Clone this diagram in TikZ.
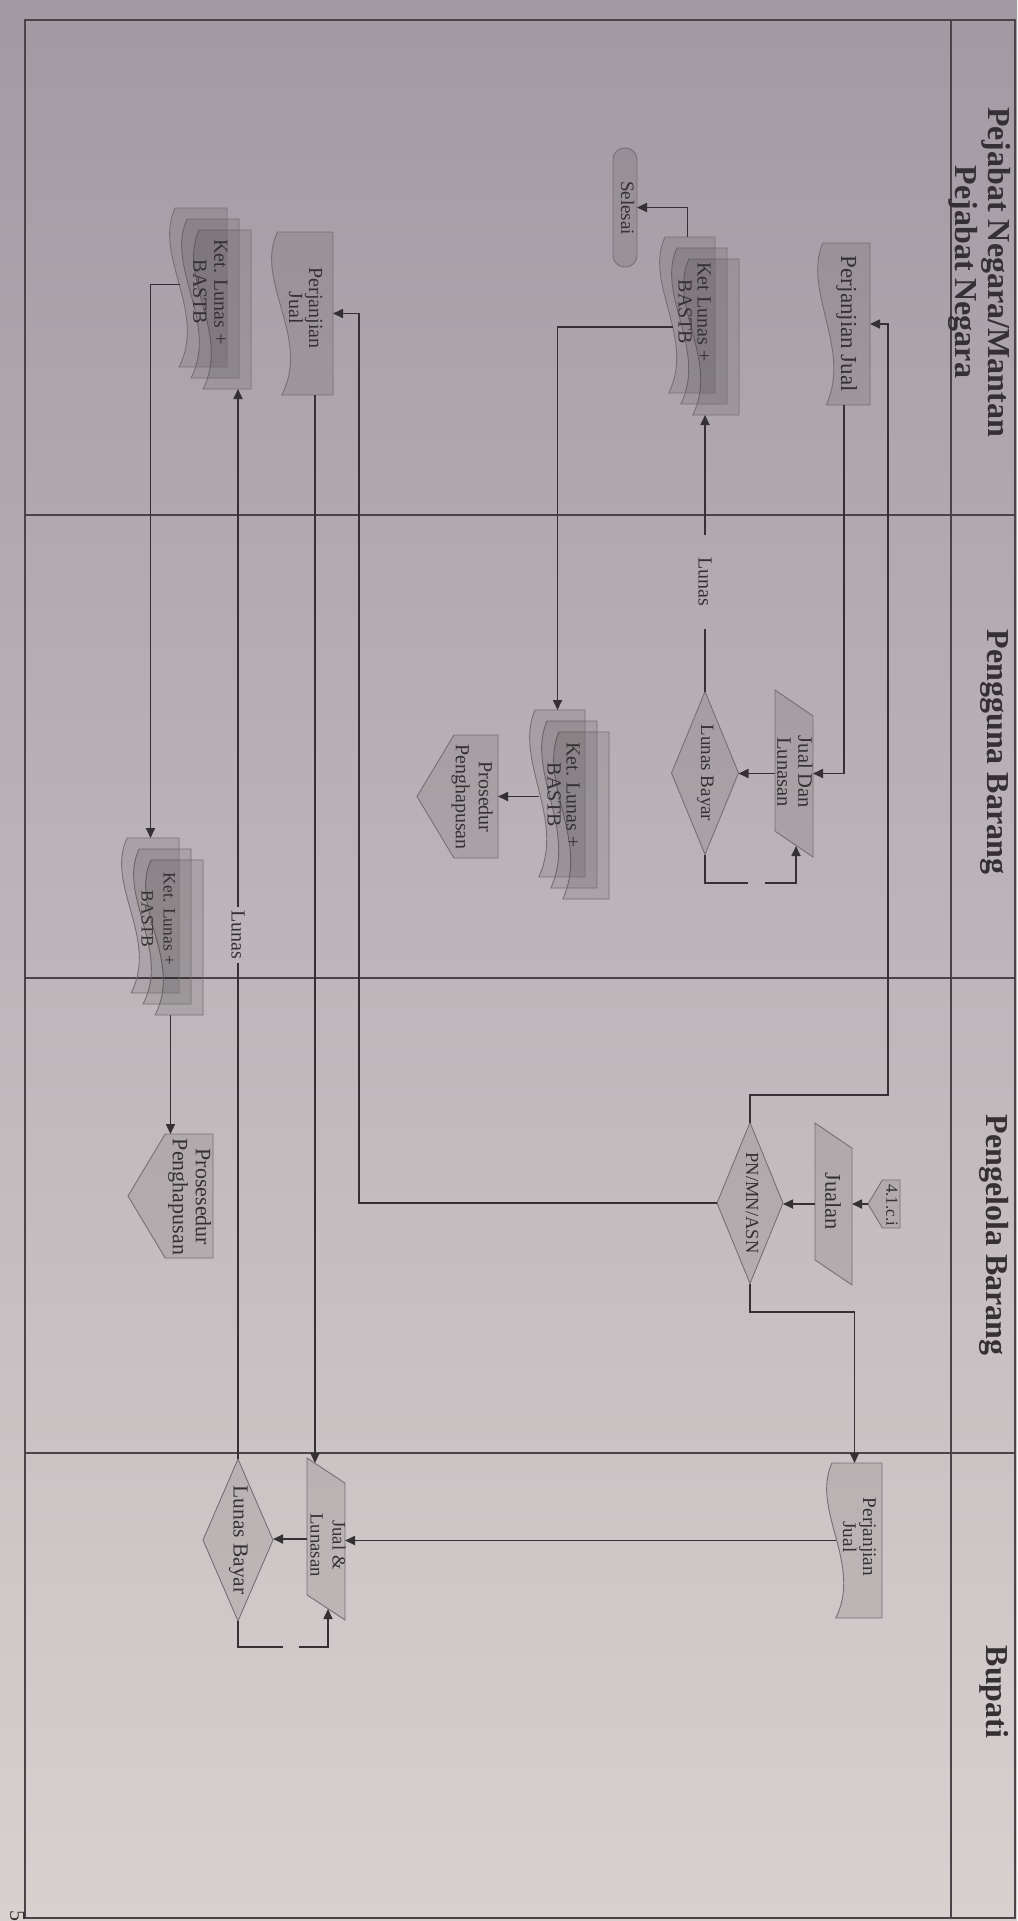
\documentclass[tikz,border=0pt]{standalone}
\usepackage{fontspec}
\setmainfont{Liberation Serif}
\usepackage{graphicx}
\usetikzlibrary{calc,arrows.meta}

\definecolor{bgtop}{RGB}{162,154,163}
\definecolor{bgmid}{RGB}{204,197,200}
\definecolor{bgbot}{RGB}{216,209,208}
\definecolor{ink}{RGB}{52,48,52}
\definecolor{rule}{RGB}{72,68,72}
\definecolor{edge}{RGB}{118,112,118}

\tikzset{
  frame/.style={rectangle, inner sep=0pt, outer sep=0pt},
  shapeline/.style={draw=edge, line width=0.9pt, fill=black, fill opacity=0.09},
  conn/.style={draw=ink, line width=1.7pt},
  arr/.style={conn, -{Triangle[length=10pt,width=9pt]}},
  lane/.style={draw=rule, line width=1.4pt},
  txt/.style={inner sep=0pt, outer sep=0pt, text=ink},
}

% invisible named box spanning (xl,yt)-(xr,yb)
\newcommand\mkbox[5]{%
  \node[frame, minimum width={(#4)-(#2)}, minimum height={(#5)-(#3)}]
    (#1) at ({((#2)+(#4))/2},{((#3)+(#5))/2}) {};}

% text turned a quarter turn clockwise
\newcommand\rtext[6]{%
  \node[txt] (#1) at (#2,#3)
    {\rotatebox{-90}{\fontsize{#4}{#5}\selectfont\begin{tabular}{@{}c@{}}#6\end{tabular}}};}

% document sheet, wavy edge on the left
\newcommand\docshape[1]{%
  \path[shapeline] let \p1=(#1.north west), \p2=(#1.south east),
      \p3=($(#1.south east)-(#1.north west)$) in
    ({\x1+0.09*\x3},\y1) -- (\x2,\y1) -- (\x2,\y2) -- ({\x1+0.16*\x3},\y2)
    .. controls ({\x1+0.65*\x3},{\y1+0.65*\y3}) and ({\x1-0.3*\x3},{\y1+0.3*\y3})
    .. ({\x1+0.09*\x3},\y1) -- cycle;}

% three stacked sheets: #1c (back), #1b, #1 (front)
\newcommand\stackdoc[5]{%
  \mkbox{#1c}{(#2)+24}{(#3)+22}{(#4)+24}{(#5)+22}
  \mkbox{#1b}{(#2)+12}{(#3)+11}{(#4)+12}{(#5)+11}
  \mkbox{#1}{#2}{#3}{#4}{#5}
  \docshape{#1c}\docshape{#1b}\docshape{#1}}

% data (parallelogram), slanted ends at top and bottom
\newcommand\ioshape[1]{%
  \path[shapeline] let \p1=(#1.north west), \p2=(#1.south east),
      \p3=($(#1.south east)-(#1.north west)$) in
    (\x1,\y1) -- (\x2,{\y1+0.155*\y3}) -- (\x2,\y2) -- (\x1,{\y2-0.155*\y3}) -- cycle;}

% decision
\newcommand\diashape[1]{%
  \path[shapeline] (#1.north) -- (#1.east) -- (#1.south) -- (#1.west) -- cycle;}

% off-page reference pointing left
\newcommand\offshape[1]{%
  \path[shapeline] let \p1=(#1.north west), \p2=(#1.south east),
      \p3=($(#1.south east)-(#1.north west)$) in
    (\x2,\y1) -- (\x2,\y2) -- ({\x1-0.3*\y3},\y2) -- (\x1,{0.5*\y1+0.5*\y2})
    -- ({\x1-0.3*\y3},\y1) -- cycle;}

\begin{document}
\begin{tikzpicture}[x=1pt,y=-1pt]
\useasboundingbox (0,0) rectangle (1017,1921);
\shade[top color=bgtop, middle color=bgmid, bottom color=bgbot] (0,0) rectangle (1017,1921);

% swimlanes
\draw[lane] (25,20) rectangle (1015,1918);
\draw[lane] (951,20) -- (951,1918);
\foreach \yy in {515,978,1453} \draw[lane] (25,\yy) -- (1015,\yy);

\node[txt] (hPN) at (979,272) {\rotatebox{-90}{\fontsize{32}{33}\selectfont\bfseries
  \begin{tabular}{@{}c@{}}Pejabat Negara/Mantan\\Pejabat Negara\end{tabular}}};
\node[txt] (hPB) at (994,752) {\rotatebox{-90}{\fontsize{32}{33}\selectfont\bfseries Pengguna Barang}};
\node[txt] (hPL) at (994,1235) {\rotatebox{-90}{\fontsize{32}{33}\selectfont\bfseries Pengelola Barang}};
\node[txt] (hBU) at (994,1692) {\rotatebox{-90}{\fontsize{32}{33}\selectfont\bfseries Bupati}};

% ---- Pejabat Negara lane
\mkbox{PJ1}{818}{243}{870}{405}\docshape{PJ1}
\stackdoc{KL1}{660}{237}{715}{393}
\node[frame, shapeline, rounded corners=11.5pt, minimum width=24, minimum height=119] (Sel) at (625,207.5) {};
\stackdoc{KL2}{170}{208}{227}{367}
\mkbox{PJ2}{272}{232}{333}{395}\docshape{PJ2}

% ---- Pengguna Barang lane
\mkbox{JDL}{775}{690}{813}{857}\ioshape{JDL}
\mkbox{LB1}{671.5}{691.5}{738.5}{854.5}\diashape{LB1}
\stackdoc{KLa}{530}{710}{585}{877}
\mkbox{PP1}{417}{735}{498}{858}\offshape{PP1}
\stackdoc{KL3}{122}{838}{179}{993}

% ---- Pengelola Barang lane
\mkbox{R41}{868}{1180}{900}{1228}\offshape{R41}
\mkbox{Jua}{815}{1123}{852}{1285}\ioshape{Jua}
\mkbox{PN}{717}{1122.5}{783}{1283.5}\diashape{PN}
\mkbox{PP2}{128}{1134}{213}{1258}\offshape{PP2}

% ---- Bupati lane
\mkbox{PJ3}{827}{1463}{882}{1618}\docshape{PJ3}
\mkbox{JL}{307}{1458}{345}{1620}\ioshape{JL}
\mkbox{LB2}{203}{1459}{273}{1621}\diashape{LB2}

% texts
\rtext{tPJ1}{846}{324}{23}{24}{Perjanjian Jual}
\rtext{tKL1}{692}{312}{20}{19}{Ket Lunas +\\BASTB}
\rtext{tSel}{625}{208}{19}{20}{Selesai}
\rtext{tKL2}{208}{292}{20}{21}{Ket. Lunas +\\BASTB}
\rtext{tPJ2}{303}{308}{20}{20}{Perjanjian\\Jual}
\rtext{tJDL}{792}{772}{20.5}{21}{Jual Dan\\Lunasan}
\rtext{tLB1}{705}{773}{19}{20}{Lunas Bayar}
\rtext{tKLa}{561}{795}{20}{19}{Ket. Lunas +\\BASTB}
\rtext{tPP1}{472}{797}{20}{23}{Prosedur\\Penghapusan}
\rtext{tKL3}{157}{919}{17.5}{22}{Ket. Lunas +\\BASTB}
\rtext{tPP2}{189}{1197}{22}{23}{Prosesedur\\Penghapusan}
\rtext{tR41}{890}{1205}{17}{18}{4.1.c.i}
\rtext{tJua}{830}{1201}{22.5}{23}{Jualan}
\rtext{tPN}{750}{1203}{18.5}{19}{PN/MN/ASN}
\rtext{tPJ3}{857}{1537}{19.3}{20}{Perjanjian\\Jual}
\rtext{tJL}{326}{1545}{18.7}{22}{Jual \&\\Lunasan}
\rtext{tLB2}{238}{1540}{21.5}{22}{Lunas Bayar}

\node[txt, inner ysep=23pt] (lab1) at (705,582) {\rotatebox{-90}{\fontsize{20}{20}\selectfont Lunas}};
\node[txt, inner ysep=4pt] (lab2) at (238,935) {\rotatebox{-90}{\fontsize{20}{20}\selectfont Lunas}};

% bend and gap points
\coordinate (b1) at (888,1095);
\coordinate (b2) at (359,0);
\coordinate (g1a) at (748,883);
\coordinate (g1b) at (765,883);
\coordinate (JDLin) at (796,846);
\coordinate (g2a) at (283,1647);
\coordinate (g2b) at (299,1647);
\coordinate (JLin) at (328,1609);
\coordinate (JLtop) at (315,1463);

% connectors
\draw[arr] (KL1.north) |- (Sel.east);
\draw[arr] ($(KL1.west)+(13,12)$) -| (KLa.north);
\draw[arr] ($(KL2.west)+(10,-3)$) -| (KL3.north);
\draw[arr] (PJ1.south) |- (JDL.east);
\draw[arr] (PJ2.south -| JLtop) -- (JLtop);

\draw[arr] (JDL.west) -- (JDL.west -| LB1.east);
\draw[conn] (LB1.south) |- (g1a);
\draw[arr] (g1b) -| (JDLin);
\draw[conn] (LB1.north) -- (lab1.south);
\draw[arr] (lab1.north) -- (lab1.north |- KL1c.south);
\draw[arr] ($(KLa.west |- PP1.east)+(9,0)$) -- (PP1.east);
\draw[arr] (KL3c.south -| PP2.north) -- (PP2.north);

\draw[arr] (R41.west) -- (R41.west -| Jua.east);
\draw[arr] (Jua.west) -- (Jua.west -| PN.east);
\draw[arr] (PN.north) |- (b1) |- (PJ1.east);
\draw[arr] (PN.west) -| (b2 |- PJ2.east) -- (PJ2.east);
\draw[arr] (PN.south) -- ++(0,28.5) -| (PJ3.north);

\draw[arr] ($(PJ3.west)+(9,0)$) -- (PJ3.west -| JL.east);
\draw[arr] (JL.west) -- (JL.west -| LB2.east);
\draw[conn] (LB2.south) |- (g2a);
\draw[arr] (g2b) -| (JLin);
\draw[conn] (LB2.north) -- (lab2.south);
\draw[arr] (lab2.north) -- (lab2.north |- KL2c.south);

% page number
\node[txt] (pgno) at (17.5,1916) {\rotatebox{-90}{\fontsize{22}{22}\selectfont 5}};
\end{tikzpicture}
\end{document}
